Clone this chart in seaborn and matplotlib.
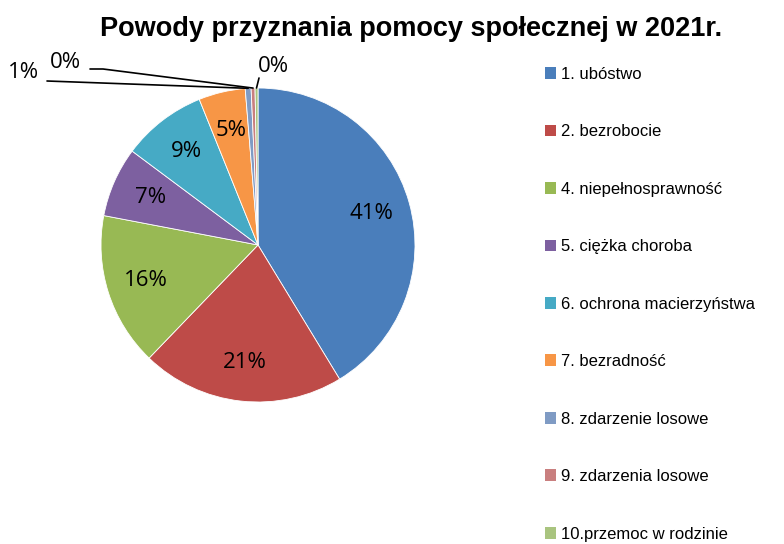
import matplotlib

matplotlib.use("Agg")
import matplotlib.pyplot as plt
import numpy as np
import seaborn as sns
from matplotlib.patches import Patch

title = "Powody przyznania pomocy społecznej w 2021r."
categories = [
    "1. ubóstwo",
    "2. bezrobocie",
    "4. niepełnosprawność",
    "5. ciężka choroba",
    "6. ochrona macierzyństwa",
    "7. bezradność",
    "8. zdarzenie losowe",
    "9. zdarzenia losowe",
    "10.przemoc w rodzinie",
]
shares = [41.3, 20.9, 15.8, 7.2, 8.7, 4.8, 0.6, 0.4, 0.3]
colors = ["#4A7EBB", "#BE4B48", "#98B954", "#7D60A0", "#46AAC5",
          "#F79646", "#7F9BC4", "#C97F7F", "#A9C47F"]

sns.set_theme(style="white")
plt.rcParams["font.family"] = ["Liberation Sans", "DejaVu Sans"]
plt.rcParams["text.color"] = "black"

W, H = 784, 544
fig = plt.figure(figsize=(W / 100, H / 100), dpi=100)
ax = fig.add_axes([0, 0, 1, 1])

cx, cy, r = 258, H - 245, 157
wedges, texts, autotexts = ax.pie(
    shares,
    colors=colors,
    startangle=90,
    counterclock=False,
    center=(cx, cy),
    radius=r,
    autopct="%.0f%%",
    pctdistance=0.75,
    wedgeprops=dict(edgecolor="#ffffff", linewidth=0.6),
    textprops=dict(family=["Open Sans", "DejaVu Sans"], fontsize=16, color="black"),
)
ax.set_xlim(0, W)
ax.set_ylim(0, H)
ax.set_aspect("equal")
ax.axis("off")

# small slices: labels pulled out with leader lines
small = {6: (8, 72), 7: (50, 62), 8: (258, 67)}
for i, (tx, ty) in small.items():
    w = wedges[i]
    th = np.deg2rad((w.theta1 + w.theta2) / 2)
    ex, ey = cx + r * np.cos(th), cy + r * np.sin(th)
    t = autotexts[i]
    t.set_position((tx, H - ty))
    t.set_ha("left")
    t.set_va("center")
    if i == 6:
        ax.plot([47, ex], [H - 81, ey], color="black", lw=1.2)
    elif i == 7:
        ax.plot([90, 103, ex], [H - 69, H - 69, ey], color="black", lw=1.2)
    else:
        ax.plot([259, ex], [H - 78, ey], color="black", lw=1.2)

ax.text(411, H - 29, title, ha="center", va="center", fontsize=19.5, fontweight="bold")

handles = [Patch(facecolor=c, edgecolor="none") for c in colors]
ax.legend(
    handles, categories,
    loc="upper left", bbox_to_anchor=(538 / W, 1 - 60 / H),
    frameon=False, fontsize=12, labelspacing=2.55,
    handlelength=0.7, handleheight=0.7, handletextpad=0.3,
    borderaxespad=0, labelcolor="black",
)

fig.savefig("out.png", dpi=100)
